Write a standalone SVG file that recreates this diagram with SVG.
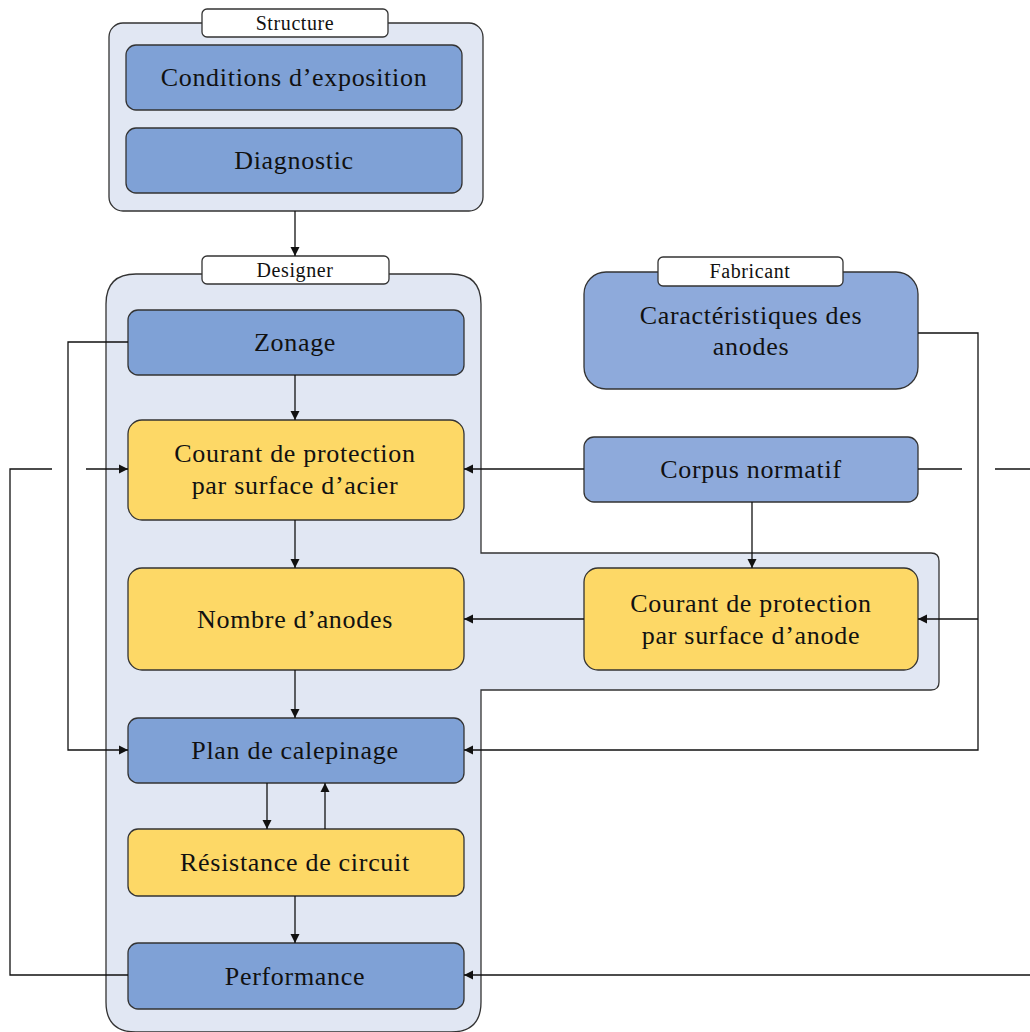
<svg xmlns="http://www.w3.org/2000/svg" width="1030" height="1032" viewBox="0 0 1030 1032">
<style>
.cont{fill:#E1E7F3;stroke:#333;stroke-width:1.3}
.blue{fill:#7FA1D6;stroke:#333;stroke-width:1.3}
.lblue{fill:#8EAADB;stroke:#333;stroke-width:1.3}
.yel{fill:#FDD866;stroke:#333;stroke-width:1.3}
.lab{fill:#fff;stroke:#333;stroke-width:1.3}
.t{font-family:"Liberation Serif",serif;font-size:26px;letter-spacing:0.7px;fill:#111;text-anchor:middle}
.tl{font-family:"Liberation Serif",serif;font-size:20px;letter-spacing:0.6px;fill:#111;text-anchor:middle}
.c{fill:none;stroke:#111;stroke-width:1.3}
</style>
<defs>
<marker id="ah" markerWidth="10" markerHeight="10" refX="9" refY="5" orient="auto" markerUnits="userSpaceOnUse">
<path d="M0,0.5 L9,5 L0,9.5 Z" fill="#111"/>
</marker>
</defs>
<rect width="1030" height="1032" fill="#fff"/>

<g id="structure">
<rect class="cont" x="109" y="23" width="374" height="188" rx="14"/>
<rect class="lab" x="202" y="9" width="186" height="28" rx="5"/>
<text class="tl" x="295" y="30">Structure</text>
</g>
<g id="designer">
<path class="cont" d="M136,274 H451 Q481,274 481,304 V553 H931 Q939,553 939,561 V682 Q939,690 931,690 H481 V1002 Q481,1032 451,1032 H136 Q106,1032 106,1002 V304 Q106,274 136,274 Z"/>
<rect class="lab" x="202" y="256" width="187" height="28" rx="5"/>
<text class="tl" x="295" y="277">Designer</text>
</g>

<g id="conditions">
<rect class="blue" x="126" y="45" width="336" height="65" rx="10"/>
<text class="t" x="294" y="86">Conditions d’exposition</text>
</g>
<g id="diagnostic">
<rect class="blue" x="126" y="128" width="336" height="65" rx="10"/>
<text class="t" x="294" y="169">Diagnostic</text>
</g>
<g id="zonage">
<rect class="blue" x="128" y="310" width="336" height="65" rx="10"/>
<text class="t" x="295" y="351">Zonage</text>
</g>
<g id="courant-acier">
<rect class="yel" x="128" y="420" width="336" height="100" rx="14"/>
<text class="t" x="295" y="462">Courant de protection</text>
<text class="t" x="295" y="494">par surface d’acier</text>
</g>
<g id="nombre">
<rect class="yel" x="128" y="568" width="336" height="102" rx="14"/>
<text class="t" x="295" y="628">Nombre d’anodes</text>
</g>
<g id="plan">
<rect class="blue" x="128" y="718" width="336" height="65" rx="10"/>
<text class="t" x="295" y="759">Plan de calepinage</text>
</g>
<g id="resistance">
<rect class="yel" x="128" y="829" width="336" height="67" rx="10"/>
<text class="t" x="295" y="871">Résistance de circuit</text>
</g>
<g id="performance">
<rect class="blue" x="128" y="943" width="336" height="66" rx="10"/>
<text class="t" x="295" y="985">Performance</text>
</g>

<g id="fabricant">
<rect class="lblue" x="584" y="272" width="334" height="117" rx="22"/>
<rect class="lab" x="658" y="257" width="185" height="29" rx="5"/>
<text class="tl" x="750" y="278">Fabricant</text>
<text class="t" x="751" y="324">Caractéristiques des</text>
<text class="t" x="751" y="355">anodes</text>
</g>
<g id="corpus">
<rect class="lblue" x="584" y="437" width="334" height="65" rx="10"/>
<text class="t" x="751" y="478">Corpus normatif</text>
</g>
<g id="courant-anode">
<rect class="yel" x="584" y="568" width="334" height="102" rx="14"/>
<text class="t" x="751" y="612">Courant de protection</text>
<text class="t" x="751" y="644">par surface d’anode</text>
</g>

<g id="connectors">
<path class="c" d="M295,211 V256" marker-end="url(#ah)"/>
<path class="c" d="M295,375 V420" marker-end="url(#ah)"/>
<path class="c" d="M295,520 V568" marker-end="url(#ah)"/>
<path class="c" d="M295,670 V718" marker-end="url(#ah)"/>
<path class="c" d="M267,783 V829" marker-end="url(#ah)"/>
<path class="c" d="M325,829 V783" marker-end="url(#ah)"/>
<path class="c" d="M295,896 V943" marker-end="url(#ah)"/>
<path class="c" d="M584,469 H464" marker-end="url(#ah)"/>
<path class="c" d="M752,502 V568" marker-end="url(#ah)"/>
<path class="c" d="M584,619 H464" marker-end="url(#ah)"/>
<path class="c" d="M918,333 H978 V750 H464" marker-end="url(#ah)"/>
<path class="c" d="M978,619 H918" marker-end="url(#ah)"/>
<path class="c" d="M128,342 H68 V750 H128" marker-end="url(#ah)"/>
<path class="c" d="M128,975 H10 V469 H52"/>
<path class="c" d="M86,469 H128" marker-end="url(#ah)"/>
<path class="c" d="M918,469 H962"/>
<path class="c" d="M995,469 H1030"/>
<path class="c" d="M1030,975 H464" marker-end="url(#ah)"/>
</g>
</svg>
